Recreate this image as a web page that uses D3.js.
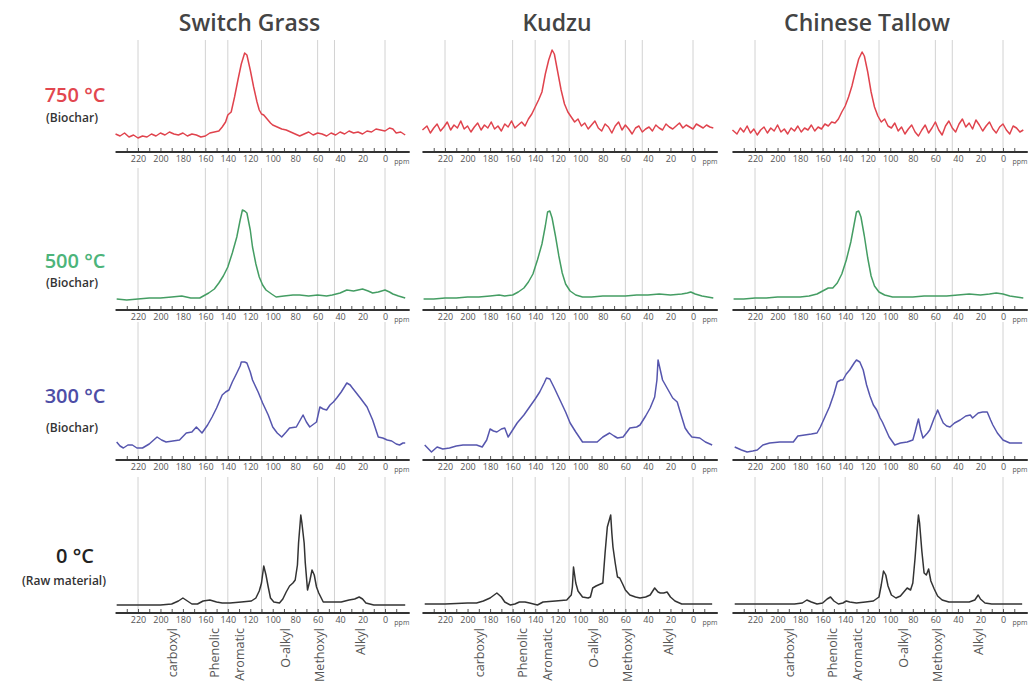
<!DOCTYPE html>
<html>
<head>
<meta charset="utf-8">
<script src="https://cdn.jsdelivr.net/npm/d3@7"></script>
<style>
body { margin: 0; background: #fff; }
svg text { font-family: "Open Sans", "DejaVu Sans", sans-serif; }
</style>
</head>
<body>
<div id="chart"></div>
<script>
// ---- data ----
const samples = ["Switch Grass", "Kudzu", "Chinese Tallow"];
const temps = ["750 °C", "500 °C", "300 °C", "0 °C"];
const tempNotes = ["(Biochar)", "(Biochar)", "(Biochar)", "(Raw material)"];
const tickValues = [220, 200, 180, 160, 140, 120, 100, 80, 60, 40, 20, 0];
const regionEdges = [220, 160, 140, 110, 60, 45, 0];
const regionNames = ["carboxyl", "Phenolic", "Aromatic", "O-alkyl", "Methoxyl", "Alkyl"];
const regionAt = [189, 151, 129, 88, 58, 21];

// [ppm, intensity]
const sg750 = [[240,18],[236,16],[232,19],[228,15],[224,17],[220,14],[216,16],[212,15],[208,18],[204,16],[200,19],[196,17],[192,20],[188,18],[184,17],[180,19],[176,16],[172,18],[168,17],[164,15],[160,16],[156,19],[152,20],[148,21],[145,25],[142,30],[140,37],[137,40],[134,55],[131,72],[128,88],[125,99],[123,97],[120,82],[117,65],[114,50],[112,42],[110,38],[108,37],[105,33],[102,29],[100,27],[96,25],[92,23],[88,22],[84,20],[80,18],[76,16],[72,18],[68,20],[64,17],[60,19],[56,18],[52,16],[48,19],[44,17],[40,20],[36,18],[32,21],[28,19],[24,20],[20,18],[16,21],[12,20],[8,23],[4,22],[0,21],[-4,24],[-7,23],[-10,19],[-14,20],[-18,17]];
const kz750 = [[240,22],[236,26],[233,19],[230,24],[227,28],[224,21],[221,25],[218,30],[215,22],[212,27],[209,24],[206,31],[203,23],[200,26],[197,20],[194,25],[191,29],[188,22],[185,27],[182,24],[179,30],[176,23],[173,26],[170,21],[167,28],[164,25],[161,31],[158,24],[155,27],[152,30],[149,26],[146,33],[143,38],[140,45],[137,52],[134,60],[131,78],[128,92],[125,102],[123,98],[120,80],[117,62],[114,48],[111,40],[108,35],[105,30],[102,33],[99,26],[96,29],[93,23],[90,27],[87,31],[84,24],[81,21],[78,28],[75,25],[72,19],[69,26],[66,30],[63,22],[60,27],[57,23],[54,18],[51,24],[48,26],[45,20],[42,23],[39,25],[36,21],[33,27],[30,24],[27,22],[24,28],[21,25],[18,23],[15,26],[12,29],[9,24],[6,27],[3,25],[0,23],[-3,28],[-6,26],[-9,24],[-12,27],[-15,25],[-18,24]];
const ct750 = [[240,22],[236,18],[233,24],[230,20],[227,26],[224,19],[221,23],[218,17],[215,22],[212,25],[209,19],[206,24],[203,21],[200,27],[197,20],[194,23],[191,18],[188,24],[185,21],[182,26],[179,20],[176,24],[173,22],[170,27],[167,21],[164,25],[161,23],[158,28],[155,26],[152,30],[149,29],[146,33],[143,40],[140,46],[137,55],[134,66],[131,80],[128,93],[125,100],[123,96],[120,80],[117,60],[114,45],[111,36],[108,30],[105,33],[102,26],[99,24],[96,29],[93,21],[90,25],[87,18],[84,23],[81,27],[78,20],[75,16],[72,22],[69,27],[66,19],[63,24],[60,30],[57,22],[54,17],[51,26],[48,31],[45,24],[42,20],[39,28],[36,33],[33,25],[30,29],[27,23],[24,32],[21,27],[18,21],[15,26],[12,30],[9,23],[6,19],[3,25],[0,28],[-3,22],[-6,18],[-9,26],[-12,24],[-15,20],[-18,22]];

const sg500 = [[239,11],[230,10],[220,11],[210,12],[200,12],[190,13],[181,14],[173,12],[165,12],[157,17],[152,21],[148,27],[144,34],[140,43],[136,57],[132,73],[129,90],[127,100],[125,99],[123,97],[120,80],[118,63],[115,46],[112,33],[109,25],[106,20],[101,16],[97,13],[90,14],[82,15],[76,15],[68,14],[60,15],[52,14],[47,15],[40,17],[34,20],[28,19],[20,21],[15,19],[11,17],[6,18],[0,20],[-4,18],[-7,16],[-12,14],[-18,12]];
const kz500 = [[239,11],[230,11],[220,12],[210,12],[200,13],[190,13],[180,14],[172,15],[167,14],[160,15],[155,18],[150,22],[146,28],[142,36],[138,50],[134,66],[131,84],[129,98],[127,99],[125,92],[122,74],[119,54],[116,37],[113,26],[109,19],[104,15],[98,13],[90,13],[80,14],[70,14],[60,14],[50,15],[40,15],[30,16],[20,15],[10,16],[5,17],[2,18],[-2,16],[-8,14],[-13,13],[-18,12]];
const ct500 = [[239,11],[230,11],[220,12],[210,12],[200,13],[190,13],[180,13],[172,14],[165,16],[160,19],[155,22],[151,22],[147,27],[143,36],[139,50],[135,68],[132,86],[130,98],[128,99],[126,93],[123,74],[120,52],[117,34],[114,24],[110,18],[105,15],[98,13],[90,13],[80,13],[70,14],[60,14],[50,14],[40,15],[30,16],[20,15],[12,16],[6,17],[0,16],[-6,14],[-12,13],[-18,12]];

const sg300 = [[239,18],[236,14],[233,12],[229,15],[225,15],[221,12],[216,12],[210,16],[203,23],[199,20],[195,18],[189,19],[183,20],[177,27],[172,28],[168,33],[163,27],[158,35],[154,43],[150,52],[145,65],[142,68],[139,70],[136,78],[132,87],[129,94],[128,98],[125,98],[123,97],[120,88],[118,80],[113,68],[109,57],[104,45],[100,33],[96,27],[92,23],[88,28],[85,32],[79,33],[73,45],[70,38],[67,33],[61,38],[58,53],[55,51],[52,50],[49,55],[46,58],[43,62],[39,68],[34,77],[31,75],[29,72],[22,62],[16,53],[11,40],[6,23],[2,22],[-2,20],[-6,19],[-10,16],[-13,15],[-16,17],[-18,17]];
const kz300 = [[238,15],[232,8],[227,13],[222,11],[216,12],[210,14],[204,15],[198,15],[192,15],[187,13],[183,20],[180,31],[177,29],[174,28],[170,31],[167,32],[164,23],[160,30],[156,37],[150,45],[145,53],[140,61],[136,68],[132,77],[130,82],[127,81],[123,72],[118,60],[113,48],[109,37],[104,28],[98,18],[92,18],[85,18],[80,23],[74,27],[70,24],[67,22],[62,23],[56,32],[50,33],[47,35],[42,44],[38,52],[34,63],[32,80],[31,100],[29,90],[27,80],[22,70],[18,62],[14,58],[10,43],[7,32],[4,27],[1,23],[-6,22],[-11,18],[-17,15]];
const ct300 = [[238,13],[232,10],[227,8],[222,9],[218,10],[213,15],[207,17],[198,18],[190,18],[186,18],[182,24],[176,25],[170,26],[165,27],[162,33],[158,43],[154,53],[150,66],[147,78],[144,80],[142,80],[139,86],[136,90],[132,97],[130,100],[127,98],[124,90],[121,75],[118,64],[115,55],[112,50],[109,42],[107,38],[105,33],[101,23],[96,15],[91,17],[85,18],[80,20],[78,28],[76,37],[75,41],[73,30],[71,22],[67,27],[65,30],[61,42],[59,47],[58,50],[55,42],[53,37],[50,34],[47,33],[43,37],[38,40],[33,44],[29,45],[27,42],[24,45],[22,47],[18,48],[14,48],[11,40],[9,35],[5,27],[0,20],[-6,17],[-12,17],[-17,17]];

const sg0 = [[239,8],[220,8],[200,8],[190,9],[184,12],[180,15],[176,12],[172,9],[167,9],[162,12],[156,13],[150,11],[145,10],[138,10],[128,11],[119,12],[115,15],[112,22],[110,30],[108,47],[106,38],[104,26],[102,15],[99,11],[94,10],[91,14],[88,21],[85,27],[82,30],[80,33],[78,48],[77,70],[75,98],[74,90],[72,70],[71,50],[69,23],[67,32],[65,43],[63,38],[61,26],[59,20],[55,11],[46,11],[39,11],[32,13],[27,14],[23,16],[20,14],[17,10],[10,8],[0,8],[-18,8]];
const kz0 = [[238,9],[220,9],[200,10],[192,10],[186,12],[180,15],[174,20],[170,16],[167,11],[162,8],[158,9],[154,11],[149,11],[145,10],[138,8],[133,11],[122,12],[112,13],[108,18],[107,26],[106,46],[104,30],[102,22],[98,16],[93,15],[91,16],[89,25],[86,27],[84,28],[80,30],[78,60],[76,86],[74,94],[73,98],[72,80],[71,66],[69,50],[67,36],[65,35],[62,28],[60,23],[56,18],[51,16],[47,15],[42,16],[38,18],[34,25],[31,21],[29,20],[26,20],[23,21],[20,16],[16,12],[10,9],[0,9],[-17,9]];
const ct0 = [[238,9],[220,9],[200,9],[185,9],[178,10],[174,13],[170,11],[165,9],[160,10],[156,14],[153,16],[150,12],[146,9],[142,10],[139,12],[136,11],[130,10],[122,11],[115,12],[110,16],[108,28],[106,42],[104,38],[102,27],[99,18],[95,15],[91,17],[88,21],[85,25],[82,23],[80,30],[78,55],[76,85],[75,98],[74,90],[72,62],[70,40],[68,38],[66,44],[64,32],[61,24],[58,17],[54,13],[48,11],[40,11],[30,11],[25,13],[22,18],[20,14],[16,10],[10,9],[0,9],[-17,9]];

const spectra = [
  [sg750, kz750, ct750],
  [sg500, kz500, ct500],
  [sg300, kz300, ct300],
  [sg0, kz0, ct0],
];

// ---- layout ----
const width = 1032, height = 687;
const colRange = [[138, 385], [445, 693], [755, 1003]];
const rowAxisY = [152, 310, 460, 613];
const rowTop = [40, 168, 322, 477];
const lineColors = ["#e0434d", "#449d63", "#5656ae", "#333333"];
const labelColors = ["#e2474f", "#4cb47a", "#4d4da6", "#222222"];
const labelY = [[102, 122], [268, 287], [403, 432], [563, 585]];

const svg = d3.select("#chart").append("svg")
    .attr("width", width)
    .attr("height", height);

samples.forEach((name, c) => {
    const x = d3.scaleLinear().domain([220, 0]).range(colRange[c]);

    svg.append("text")
        .attr("x", x(110) - 12)
        .attr("y", 31)
        .attr("text-anchor", "middle")
        .attr("font-size", 23)
        .attr("font-weight", 600)
        .attr("fill", "#444")
        .text(name);

    temps.forEach((t, r) => {
        const y = d3.scaleLinear().domain([0, 130]).range([rowAxisY[r], rowAxisY[r] - 130]);
        const g = svg.append("g").attr("class", "panel");

        g.selectAll(".grid")
            .data(regionEdges)
            .join("line")
            .attr("class", "grid")
            .attr("x1", d => x(d)).attr("x2", d => x(d))
            .attr("y1", rowTop[r]).attr("y2", rowAxisY[r])
            .attr("stroke", "#d2d2d2")
            .attr("stroke-width", 1);

        g.append("path")
            .datum(spectra[r][c])
            .attr("d", d3.line().x(d => x(d[0])).y(d => y(d[1])))
            .attr("fill", "none")
            .attr("stroke", lineColors[r])
            .attr("stroke-width", 1.5)
            .attr("stroke-linejoin", "round");

        // minor ticks above the axis line
        const minor = g.append("g")
            .attr("transform", `translate(0,${rowAxisY[r] - 1})`)
            .call(d3.axisTop(x).tickValues(d3.range(230, -20, -10)).tickSize(3).tickFormat(""));
        minor.select(".domain").remove();
        minor.selectAll("line").attr("stroke", "#555");

        g.append("line")
            .attr("x1", x(240)).attr("x2", x(-22))
            .attr("y1", rowAxisY[r]).attr("y2", rowAxisY[r])
            .attr("stroke", "#333")
            .attr("stroke-width", 2);

        const labels = g.append("g")
            .attr("transform", `translate(0,${rowAxisY[r]})`)
            .call(d3.axisBottom(x).tickValues(tickValues).tickSize(0).tickPadding(4));
        labels.select(".domain").remove();
        labels.selectAll("text")
            .attr("font-size", 9)
            .attr("fill", "#555")
            .style("font-family", "'Open Sans', sans-serif");

        g.append("text")
            .attr("x", x(-15))
            .attr("y", rowAxisY[r] + 12)
            .attr("text-anchor", "middle")
            .attr("font-size", 7)
            .attr("fill", "#555")
            .text("ppm");
    });

    // region names under the bottom row
    svg.append("g").selectAll("text")
        .data(regionNames)
        .join("text")
        .attr("transform", (d, i) => `translate(${x(regionAt[i]) + 4},${rowAxisY[3] + 15}) rotate(-90)`)
        .attr("text-anchor", "end")
        .attr("font-size", 12.5)
        .attr("fill", "#555")
        .text(d => d);
});

temps.forEach((t, r) => {
    svg.append("text")
        .attr("x", 75)
        .attr("y", labelY[r][0])
        .attr("text-anchor", "middle")
        .attr("font-size", 20)
        .attr("font-weight", 600)
        .attr("fill", labelColors[r])
        .text(t);
    svg.append("text")
        .attr("x", r === 3 ? 64 : 72)
        .attr("y", labelY[r][1])
        .attr("text-anchor", "middle")
        .attr("font-size", 12)
        .attr("font-weight", 600)
        .attr("fill", "#333")
        .text(tempNotes[r]);
});
</script>
</body>
</html>
